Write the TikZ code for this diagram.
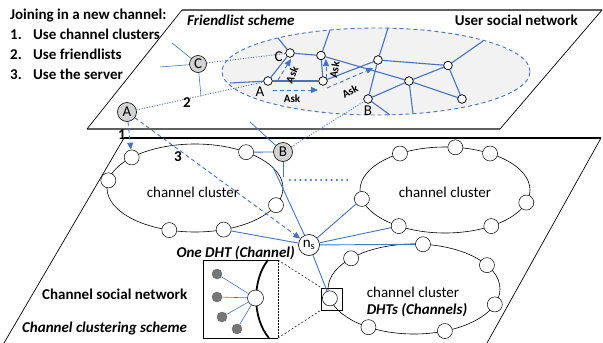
\documentclass[tikz,border=0pt]{standalone}
\usepackage{fontspec}
\setmainfont{Carlito}
\usetikzlibrary{arrows.meta,calc}

\definecolor{netblue}{HTML}{4472C4}
\definecolor{ovalfill}{HTML}{F2F2F2}
\definecolor{hubgray}{HTML}{D3D3D3}
\definecolor{leafgray}{HTML}{767676}
\definecolor{edgegray}{HTML}{5F5F5F}

\tikzset{
  txt/.style={font=\fontsize{15}{18}\selectfont, inner sep=0pt},
  btxt/.style={font=\fontsize{15}{18}\selectfont\bfseries, inner sep=0pt},
  bitxt/.style={font=\fontsize{15}{18}\selectfont\bfseries\itshape, inner sep=0pt},
  asktxt/.style={font=\fontsize{11}{13}\selectfont\bfseries, inner sep=0pt},
  unode/.style={circle, draw=black, fill=white, line width=0.6pt, minimum size=8.5pt, inner sep=0pt},
  cnode/.style={circle, draw=black, fill=white, line width=0.5pt, minimum size=15pt, inner sep=0pt},
  hub/.style={circle, draw=black, fill=hubgray, line width=0.6pt, minimum size=19pt, inner sep=0pt, font=\fontsize{15}{18}\selectfont},
  leaf/.style={circle, draw=black!60, fill=leafgray, line width=0.4pt, minimum size=10pt, inner sep=0pt},
  link/.style={netblue, line width=1.1pt},
  thinlink/.style={netblue, line width=0.6pt},
  dotlink/.style={netblue, line width=0.9pt, dash pattern=on 1pt off 1.6pt},
  askarrow/.style={netblue, line width=0.9pt, dash pattern=on 4pt off 3pt, -{Triangle[length=7pt,width=6pt]}},
  planeedge/.style={black, line width=0.7pt},
  cluster/.style={black, line width=0.6pt},
}

\begin{document}
\begin{tikzpicture}[x=1pt, y=-1pt]
\useasboundingbox (0,0) rectangle (603,343);

% ---------- user social network plane ----------
\draw[edgegray, line width=1.8pt] (182,10) -- (602,10);
\draw[edgegray, line width=1.8pt] (87,129) -- (500,129);
\draw[planeedge] (87,129) -- (182,10);
\draw[planeedge] (602,10) -- (500,129);

% ---------- channel social network plane ----------
\draw[black, line width=1.2pt] (124,138) -- (601,138);
\draw[planeedge] (124,138) -- (4,343);
\draw[planeedge] (601,138) -- (487,343);

% ---------- friendlist oval ----------
\draw[netblue, fill=ovalfill, line width=0.9pt, dash pattern=on 4pt off 3pt]
  (376,71.5) ellipse [x radius=154pt, y radius=43.5pt];

% user nodes
\node[unode] (uC) at (290,53) {};
\node[unode] (uN1) at (321,55.5) {};
\node[unode] (uA) at (268,81) {};
\node[unode] (uN2) at (323,81) {};
\node[unode] (uN3) at (378,60) {};
\node[unode] (uN4) at (409,81) {};
\node[unode] (uN5) at (448,65.5) {};
\node[unode] (uN6) at (462,99) {};
\node[unode] (uB) at (368,99) {};

% links that leave the visible part of the network
\coordinate (bA) at (230,83);
\coordinate (bC) at (278,38);
\coordinate (bN1) at (330,30);
\coordinate (bN3) at (388,28);
\coordinate (bN4) at (413,114);
\coordinate (bN5) at (483,41);
\coordinate (bB) at (390,115);

\draw[link] (uA) -- (bA);
\draw[link] (uA) -- (uC);
\draw[link] (uA) -- (uN2);
\draw[link] (uC) -- (uN1);
\draw[link] (uC) -- (bC);
\draw[link] (uN1) -- (bN1);
\draw[link] (uN1) -- (uN2);
\draw[link] (uN1) -- (uN4);
\draw[link] (uN2) -- (uN3);
\draw[link] (uN3) -- (bN3);
\draw[link] (uN3) -- (uN5);
\draw[link] (uN3) -- (uB);
\draw[link] (uN4) -- (uN5);
\draw[link] (uN4) -- (uN6);
\draw[link] (uN4) -- (bN4);
\draw[link] (uN5) -- (bN5);
\draw[link] (uN5) -- (uN6);
\draw[link] (uB) -- (uN4);
\draw[link] (uB) -- (bB);

% redraw nodes above the links
\foreach \n in {uC,uN1,uA,uN2,uN3,uN4,uN5,uN6,uB}
  \node[unode] at (\n) {};

\node[txt] (labC) at (278.5,57) {C};
\node[txt] (labA) at (260,92) {A};
\node[txt] (labB) at (368,110.5) {B};

% friendlist requests
\coordinate (k1s) at (278,80);   \coordinate (k1e) at (291,59);
\coordinate (k2s) at (326,78);   \coordinate (k2e) at (326,59);
\coordinate (k3s) at (273,90);   \coordinate (k3e) at (318,90);
\coordinate (k4s) at (327,88);   \coordinate (k4e) at (373,68);
\draw[askarrow] (k1s) -- (k1e);
\draw[askarrow] (k2s) -- (k2e);
\draw[askarrow] (k3s) -- (k3e);
\draw[askarrow] (k4s) -- (k4e);
\node[asktxt, rotate=65] (ask1) at (292,75) {Ask};
\node[asktxt, rotate=80] (ask2) at (334.5,70) {Ask};
\node[asktxt] (ask3) at (292,98.5) {Ask};
\node[asktxt, rotate=28] (ask4) at (350,91) {Ask};

% ---------- headings ----------
\node[btxt, anchor=base west] (head) at (10,19) {Joining in a new channel:};
\node[btxt, anchor=base west] (n1) at (10,39) {1.};
\node[btxt, anchor=base west] (i1) at (33,39) {Use channel clusters};
\node[btxt, anchor=base west] (n2) at (10,59) {2.};
\node[btxt, anchor=base west] (i2) at (33,59) {Use friendlists};
\node[btxt, anchor=base west] (n3) at (10,79) {3.};
\node[btxt, anchor=base west] (i3) at (33,79) {Use the server};
\node[bitxt, anchor=base west] (fs) at (187,25) {Friendlist scheme};
\node[btxt, anchor=base east] (usn) at (578,25) {User social network};

% ---------- channel clusters ----------
\coordinate (lc) at (195,188);
\coordinate (rc) at (445,190);
\coordinate (bc) at (414,289);
\draw[cluster] (lc) ellipse [x radius=88pt, y radius=44pt];
\draw[cluster] (rc) ellipse [x radius=85pt, y radius=43pt];
\draw[cluster] (bc) ellipse [x radius=86pt, y radius=45pt];
\coordinate (lb) at ($(lc)+(-27:88 and 44)$);

\node[txt, anchor=base] (lcl) at (193,197) {channel cluster};
\node[txt, anchor=base] (rcl) at (445,197) {channel cluster};
\node[txt, anchor=base] (bcl) at (413,297) {channel cluster};
\node[bitxt, anchor=base] (dhts) at (417,314) {DHTs (Channels)};

% server node and hubs
\node[hub, fill=white, minimum size=21pt] (ns) at (309,245) {n\textsubscript{s}};
\node[hub, minimum size=17pt] (hC) at (198,64) {C};
\node[hub] (hA) at (127,112) {A};
\node[hub] (hB) at (283,152) {B};

% cluster members
\foreach \a/\n in {-136/l1,-170/l2,-54.5/l3,23/l4,107/l5,71/l6}
  \node[cnode] (\n) at ($(lc)+(\a:88 and 44)$) {};
\foreach \a/\n in {-122/r1,-83/r2,-58/r3,168/r4,17/r5,123/r6,57/r7}
  \node[cnode] (\n) at ($(rc)+(\a:85 and 43)$) {};
\foreach \a/\n in {-84/b1,-137/b2,-32/b3,168/b4,20/b5,122/b6,69/b7}
  \node[cnode] (\n) at ($(bc)+(\a:86 and 45)$) {};
\node[draw, line width=0.6pt, minimum width=21pt, minimum height=22pt, inner sep=0pt] (sq) at ($(b4)+(2,0.5)$) {};

% C's other friends
\coordinate (cf1) at (172,43);
\coordinate (cf2) at (160,67);
\coordinate (cf3) at (201,96);
\draw[thinlink] (hC) -- (cf1);
\draw[thinlink] (hC) -- (cf2);
\draw[thinlink] (hC) -- (cf3);

% B's links
\coordinate (bu) at (250,122);
\coordinate (bd) at (283,177);
\draw[thinlink, line width=0.8pt] (hB) -- (bu);
\draw[thinlink, line width=0.8pt] (hB) -- (l3);
\draw[thinlink, line width=0.8pt] (hB) -- (bd);

% further clusters
\coordinate (dots1) at (290,180);
\coordinate (dots2) at (352,180);
\draw[netblue, line width=2.4pt, line cap=round, dash pattern=on 0pt off 5.2pt] (dots1) -- (dots2);

% server links
\draw[thinlink, line width=0.9pt] (ns) -- (lb);
\draw[thinlink, line width=0.9pt] (ns) -- (l6);
\draw[thinlink, line width=0.9pt] (ns) -- (r4);
\draw[thinlink, line width=0.9pt] (ns) -- (r6);
\draw[thinlink, line width=0.9pt] (ns) -- (b1);
\draw[thinlink, line width=0.9pt] (ns) -- (b4);

% joining paths
\draw[dotlink] (hA) -- (uA);
\draw[dotlink] (hC) -- (uC);
\draw[dotlink] (hB) -- (uB);
\draw[askarrow] (hA) -- (l1);
\draw[askarrow] (hA) -- (ns);
\node[btxt] (p1) at (122,135) {1};
\node[btxt] (p2) at (187,103) {2};
\node[btxt] (p3) at (178,157) {3};

% ---------- zoomed DHT ----------
\coordinate (iTL) at (203,260);
\coordinate (iTR) at (278,260);
\coordinate (iBL) at (203,338);
\coordinate (iBR) at (278,338);
\draw[black, line width=0.7pt] (iTR) -- (iTL) -- (iBL) -- (iBR);
\draw[black, line width=0.5pt, dash pattern=on 1.5pt off 1.5pt] (iTR) -- (iBR);
\draw[black, line width=0.5pt, dash pattern=on 2pt off 2pt] (iTR) -- (sq.north west);
\draw[black, line width=0.5pt, dash pattern=on 2pt off 2pt] (iBR) -- (sq.south west);
\draw[black, line width=1.8pt] (268,260) .. controls (252,280) and (252,318) .. (269,338);
\node[cnode, minimum size=16pt] (dht) at (255.5,298) {};
\node[leaf] (g1) at (217,274) {};
\node[leaf] (g2) at (217,297) {};
\node[leaf] (g3) at (222,317) {};
\node[leaf] (g4) at (237,329) {};
\foreach \g in {g1,g2,g3,g4}
  \draw[thinlink] (dht) -- (\g);

\node[bitxt, anchor=base east] (onedht) at (295,257.5) {One DHT (Channel)};
\node[btxt, anchor=base west] (csn) at (42,299) {Channel social network};
\node[bitxt, anchor=base west] (ccs) at (22,332) {Channel clustering scheme};
\end{tikzpicture}
\end{document}
